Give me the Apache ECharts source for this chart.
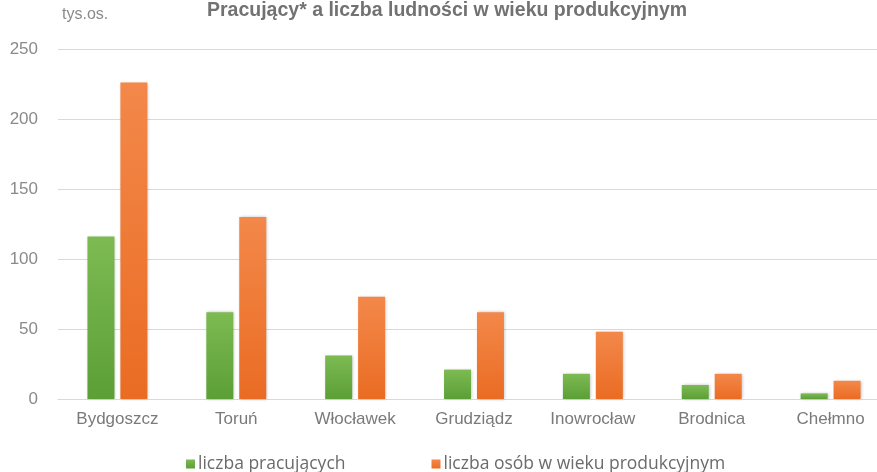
<!DOCTYPE html>
<html>
<head>
<meta charset="utf-8">
<script src="https://cdn.jsdelivr.net/npm/echarts@6/dist/echarts.min.js"></script>
<style>
  html, body { margin: 0; padding: 0; background: #fff; overflow: hidden; }
  /* the plot runs past the right edge of the window, cut off like a cropped figure */
  #chart { width: 890px; height: 472px; }
</style>
</head>
<body>
<div id="chart"></div>
<script>
// Cities (x axis)
var cities = ['Bydgoszcz', 'Toruń', 'Włocławek', 'Grudziądz', 'Inowrocław', 'Brodnica', 'Chełmno'];
// Employed persons, thousands
var employed = [116, 62, 31, 21, 18, 10, 4];
// Working-age population, thousands
var workingAge = [226, 130, 73, 62, 48, 18, 13];
// Value axis ticks
var yTicks = [0, 50, 100, 150, 200, 250];

var seriesNames = ['liczba pracujących', 'liczba osób w wieku produkcyjnym'];

function grad(top, bottom) {
  return new echarts.graphic.LinearGradient(0, 0, 0, 1, [
    { offset: 0, color: top },
    { offset: 1, color: bottom }
  ]);
}

var chart = echarts.init(document.getElementById('chart'));
chart.setOption({
  animation: false,
  backgroundColor: '#ffffff',
  title: {
    text: 'Pracujący* a liczba ludności w wieku produkcyjnym',
    left: 202,
    top: -4,
    textStyle: {
      fontFamily: 'Liberation Sans, Arial, sans-serif',
      fontSize: 19.5,
      fontWeight: 'bold',
      color: '#727272'
    }
  },
  graphic: [{
    type: 'text',
    left: 62,
    top: 7,
    style: {
      text: 'tys.os.',
      fontFamily: 'Liberation Sans, Arial, sans-serif',
      fontSize: 16,
      fill: '#8a8a8a'
    }
  }],
  legend: {
    data: seriesNames,
    left: 181,
    top: 450,
    itemWidth: 9,
    itemHeight: 9,
    itemGap: 86,
    icon: 'rect',
    textStyle: {
      fontFamily: 'Open Sans, sans-serif',
      fontSize: 17.5,
      color: '#6b6b6b',
      padding: [0, 0, 0, -2]
    }
  },
  grid: {
    left: 58,
    right: 0,
    top: 49,
    bottom: 73,
    containLabel: false
  },
  xAxis: {
    type: 'category',
    data: cities,
    axisTick: { show: false },
    axisLine: { show: true, lineStyle: { color: '#d9d9d9', width: 1 } },
    axisLabel: {
      margin: 12,
      fontFamily: 'Liberation Sans, Arial, sans-serif',
      fontSize: 17,
      color: '#7a7a7a'
    }
  },
  yAxis: {
    type: 'value',
    min: yTicks[0],
    max: yTicks[yTicks.length - 1],
    interval: yTicks[1] - yTicks[0],
    axisLine: { show: false },
    axisTick: { show: false },
    splitLine: { lineStyle: { color: '#d9d9d9', width: 1 } },
    axisLabel: {
      margin: 20,
      fontFamily: 'Liberation Sans Narrow, Arial Narrow, Liberation Sans, sans-serif',
      fontSize: 17,
      color: '#8a8a8a'
    }
  },
  series: [
    {
      name: seriesNames[0],
      type: 'bar',
      data: employed,
      barWidth: 27,
      barGap: '22%',
      itemStyle: {
        color: grad('#7dba52', '#5c9f37'),
        shadowColor: 'rgba(0,0,0,0.25)',
        shadowBlur: 3,
        shadowOffsetX: 1,
        shadowOffsetY: 0
      }
    },
    {
      name: seriesNames[1],
      type: 'bar',
      data: workingAge,
      barWidth: 27,
      itemStyle: {
        color: grad('#f3884a', '#ea6c23'),
        shadowColor: 'rgba(0,0,0,0.25)',
        shadowBlur: 3,
        shadowOffsetX: 1,
        shadowOffsetY: 0
      }
    }
  ]
});
</script>
</body>
</html>
